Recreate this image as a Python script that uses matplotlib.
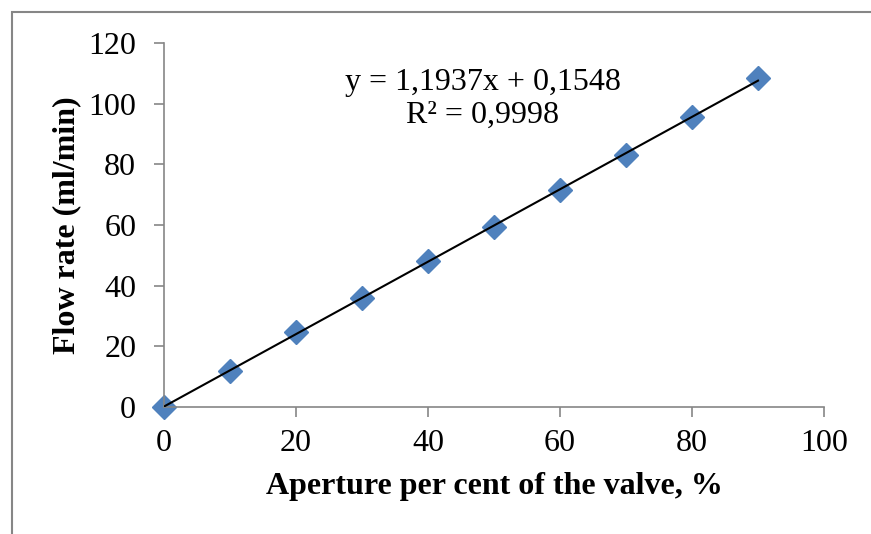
import numpy as np
import matplotlib.pyplot as plt
from matplotlib.patches import Rectangle

# aperture of the valve (%) and measured flow rate (ml/min)
aperture = [0, 10, 20, 30, 40, 50, 60, 70, 80, 90]
flow = [0, 12.0, 24.8, 36.0, 48.0, 59.5, 71.6, 83.0, 95.5, 108.5]
slope, intercept = 1.1937, 0.1548
eq_text = "y = 1,1937x + 0,1548\nR² = 0,9998"
xticks = [0, 20, 40, 60, 80, 100]
yticks = [0, 20, 40, 60, 80, 100, 120]

plt.rcParams['font.family'] = ['Liberation Serif', 'DejaVu Serif']
grey = '#868686'

fig = plt.figure(figsize=(8.71, 5.34), dpi=100)
ax = fig.add_axes([164/871, 1-407/534, (824-164)/871, (407-43)/534])

# outer chart border (cut at right and bottom like the source)
fig.patches.append(Rectangle((12/871, -0.1), 1.2, 1-12/534+0.1, transform=fig.transFigure,
                             fill=False, edgecolor=grey, linewidth=1.5))

xs = np.array([aperture[0], aperture[-1]])
ax.plot(xs, slope*xs + intercept, color='black', linewidth=1.5, zorder=3)
ax.plot(aperture, flow, linestyle='none', marker='D', markersize=12,
        color='#4F81BD', zorder=2, clip_on=False)

ax.text(48.3, 101.5, eq_text, ha='center', va='center', fontsize=23, linespacing=1.15)

ax.set_xlim(0, 100)
ax.set_ylim(0, 120)
ax.set_xticks(xticks)
ax.set_yticks(yticks)
ax.tick_params(labelsize=23, color=grey, length=7, width=1.2, direction='out')
ax.tick_params(axis='x', pad=9)
ax.tick_params(axis='y', pad=13)
for s in ['top', 'right']:
    ax.spines[s].set_visible(False)
for s in ['left', 'bottom']:
    ax.spines[s].set_color(grey)
    ax.spines[s].set_linewidth(1.2)

ax.set_xlabel('Aperture per cent of the valve, %', fontsize=23, fontweight='bold', labelpad=10)
ax.set_ylabel('Flow rate (ml/min)', fontsize=23, fontweight='bold', labelpad=5)

fig.savefig('out.png', dpi=100)
